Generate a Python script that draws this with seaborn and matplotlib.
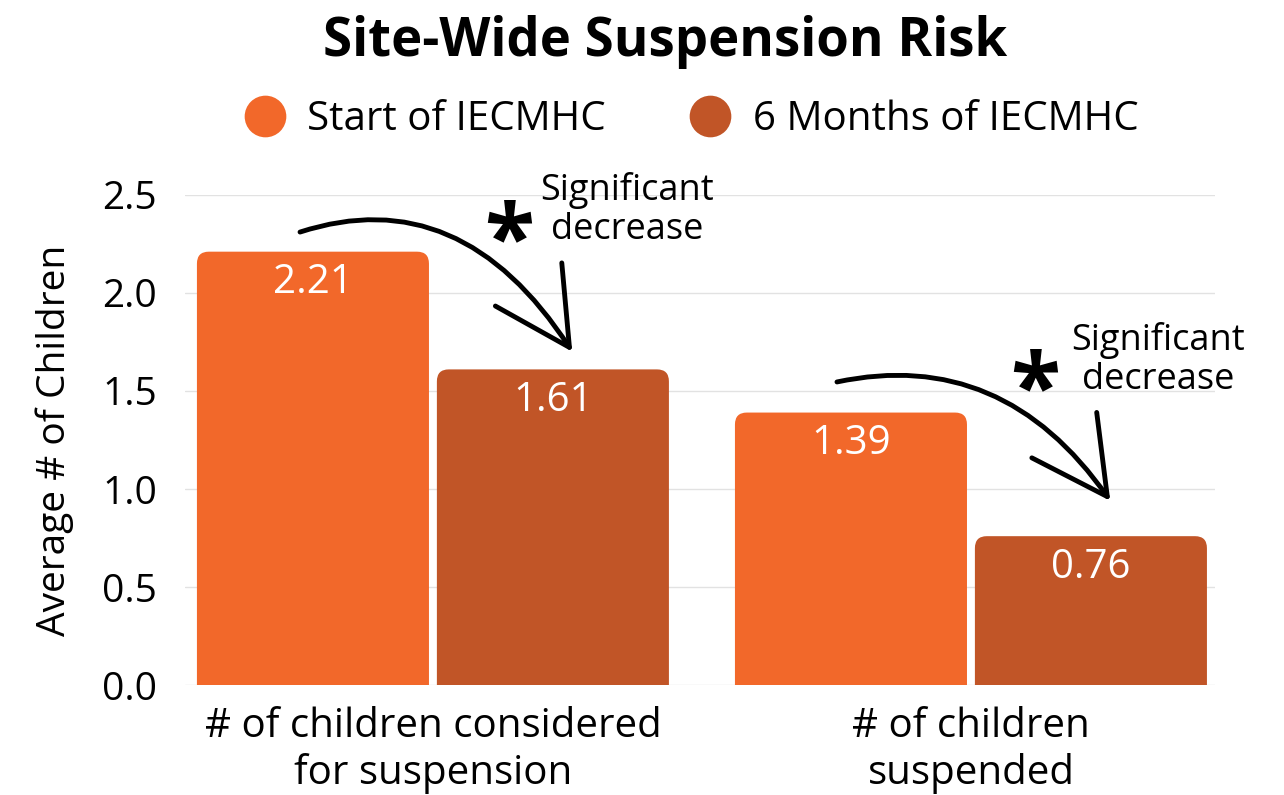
import matplotlib.pyplot as plt
import seaborn as sns
import pandas as pd
from matplotlib.patches import FancyBboxPatch
from matplotlib.lines import Line2D

# Data
categories = ['# of children considered\nfor suspension', '# of children\nsuspended']
periods = ['Start of IECMHC', '6 Months of IECMHC']
start_values = [2.21, 1.39]
six_month_values = [1.61, 0.76]
y_ticks = [0.0, 0.5, 1.0, 1.5, 2.0, 2.5]
note_text = 'Significant\ndecrease'

colors = ['#F2682A', '#C15527']

df = pd.DataFrame({
    'category': categories * 2,
    'period': [periods[0]] * len(categories) + [periods[1]] * len(categories),
    'value': start_values + six_month_values,
})

sns.set_style('whitegrid')
plt.rcParams['font.family'] = ['Open Sans', 'DejaVu Sans']
plt.rcParams['text.color'] = 'black'
plt.rcParams['axes.labelcolor'] = 'black'
plt.rcParams['xtick.color'] = 'black'
plt.rcParams['ytick.color'] = 'black'

fig = plt.figure(figsize=(12.84, 7.95), dpi=100)
ax = fig.add_axes([0.144, 0.138, 0.802, 0.617])

sns.barplot(data=df, x='category', y='value', hue='period', palette=colors,
            saturation=1, width=0.892, gap=0.033, legend=False, ax=ax)

ax.set_xlim(-0.461, 1.453)
ax.set_ylim(0, 2.5)

# swap plain bars for bars with rounded top corners
rx, ry = 0.022, 0.061
bars = []
for container in ax.containers:
    row = []
    for bar in container:
        x, w, h = bar.get_x(), bar.get_width(), bar.get_height()
        fc = bar.get_facecolor()
        bar.remove()
        ax.add_patch(FancyBboxPatch((x, -ry), w, h + ry,
                                    boxstyle=f'round,pad=0,rounding_size={rx}',
                                    mutation_aspect=ry / rx, facecolor=fc,
                                    edgecolor='none', zorder=2))
        ax.text(x + w / 2, h - 0.16, f'{h:.2f}', ha='center', va='center',
                color='white', fontsize=29, zorder=3)
        row.append((x + w / 2, h))
    bars.append(row)

# significance arrows: offsets from the bars (start, tip, star, note)
start_off = [(-0.024, 0.10), (-0.026, 0.156)]
tip_off = [(0.036, 0.09), (0.036, 0.18)]
star_off = [(-0.081, 0.51), (-0.103, 0.60)]
note_off = [(0.138, 0.813), (0.125, 0.898)]
arc_angles = [(18, -57), (12, -55)]

for i in range(len(categories)):
    (x0, h0), (x1, h1) = bars[0][i], bars[1][i]
    a, b = arc_angles[i]
    ax.annotate('', xy=(x1 + tip_off[i][0], h1 + tip_off[i][1]),
                xytext=(x0 + start_off[i][0], h0 + start_off[i][1]),
                arrowprops=dict(arrowstyle='->,head_length=1.8,head_width=0.95',
                                connectionstyle=f'angle3,angleA={a},angleB={b}',
                                lw=3.5, color='black', mutation_scale=30,
                                shrinkA=0, shrinkB=0), zorder=4)
    ax.text(x1 + star_off[i][0], h1 + star_off[i][1], '*', ha='center',
            va='baseline', fontsize=66, fontweight='bold', color='black')
    ax.text(x1 + note_off[i][0], h1 + note_off[i][1], note_text, ha='center',
            va='center', fontsize=26, linespacing=1.12, color='black')

ax.set_yticks(y_ticks)
ax.set_yticklabels([f'{t:.1f}' for t in y_ticks])
ax.tick_params(axis='y', labelsize=28, pad=20, length=0)
ax.tick_params(axis='x', labelsize=29, pad=15, length=0)
ax.set_xlabel('')
ax.set_ylabel('Average # of Children', fontsize=28, labelpad=20)

ax.yaxis.grid(True, color='#e2e2e2', linewidth=1)
ax.xaxis.grid(False)
ax.set_axisbelow(True)
for spine in ax.spines.values():
    spine.set_visible(False)

fig.text(0.518, 0.947, 'Site-Wide Suspension Risk', ha='center', va='center',
         fontsize=38, fontweight='bold')

handles = [Line2D([], [], marker='o', linestyle='none', markersize=30,
                  markerfacecolor=c, markeredgecolor='none') for c in colors]
fig.legend(handles, periods, loc='center', bbox_to_anchor=(0.537, 0.849),
           ncol=2, frameon=False, fontsize=29, handlelength=1.2,
           handletextpad=0.45, columnspacing=2.0)

plt.savefig('out.png', dpi=100)
